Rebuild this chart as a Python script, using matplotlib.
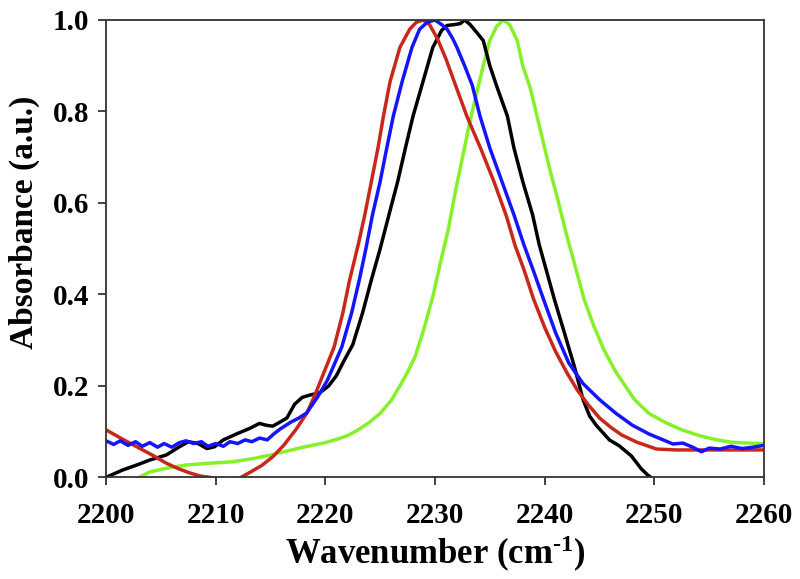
import matplotlib
matplotlib.use('Agg')
import matplotlib.pyplot as plt

# font settings (Times-like bold serif)
plt.rcParams['font.family'] = ['Liberation Serif', 'DejaVu Serif']
plt.rcParams['font.weight'] = 'bold'
plt.rcParams['mathtext.fontset'] = 'custom'
plt.rcParams['mathtext.rm'] = 'Liberation Serif:bold'
plt.rcParams['mathtext.bf'] = 'Liberation Serif:bold'
plt.rcParams['mathtext.default'] = 'bf'

# black spectrum
black_x = [2200.0, 2201.5, 2202.8, 2204.0, 2205.5, 2206.7, 2207.5, 2208.4, 2209.2, 2209.9,
           2210.7, 2212.0, 2213.1, 2214.0, 2214.6, 2215.2, 2215.8, 2216.5, 2217.2, 2217.9,
           2218.6, 2219.5, 2220.3, 2221.0, 2221.7, 2222.5, 2223.4, 2224.2, 2225.0, 2225.8,
           2226.6, 2227.3, 2228.0, 2228.9, 2229.8, 2230.6, 2231.1, 2231.8, 2232.3, 2232.7,
           2233.2, 2233.9, 2234.4, 2235.0, 2235.6, 2236.6, 2237.2, 2238.0, 2238.9, 2239.5,
           2240.3, 2240.9, 2241.8, 2242.7, 2243.5, 2244.1, 2244.7, 2245.9, 2246.8, 2247.9,
           2248.8, 2249.4, 2249.7]
black_y = [0.000, 0.016, 0.027, 0.038, 0.049, 0.067, 0.078, 0.074, 0.063, 0.067,
           0.082, 0.096, 0.107, 0.118, 0.114, 0.112, 0.120, 0.130, 0.160, 0.175,
           0.180, 0.185, 0.200, 0.222, 0.255, 0.290, 0.360, 0.432, 0.500, 0.574,
           0.647, 0.720, 0.790, 0.865, 0.940, 0.977, 0.988, 0.990, 0.992, 1.000,
           0.990, 0.970, 0.955, 0.900, 0.857, 0.790, 0.720, 0.647, 0.574, 0.509,
           0.440, 0.388, 0.316, 0.243, 0.170, 0.134, 0.114, 0.082, 0.069, 0.047,
           0.019, 0.005, 0.000]

# blue spectrum
blue_x = [2200.0, 2200.7, 2201.3, 2202.0, 2202.7, 2203.3, 2204.0, 2204.7, 2205.3, 2206.0,
          2206.7, 2207.3, 2208.0, 2208.7, 2209.3, 2210.0, 2210.7, 2211.3, 2212.0, 2212.7,
          2213.3, 2214.0, 2214.7, 2215.3, 2215.9, 2216.8, 2217.6, 2218.3, 2219.3, 2220.2,
          2221.5, 2222.4, 2223.1, 2223.7, 2224.3, 2225.0, 2225.6, 2226.2, 2227.0, 2227.9,
          2228.6, 2229.3, 2230.0, 2230.6, 2231.1, 2231.6, 2232.0, 2232.7, 2233.4, 2234.1,
          2235.0, 2236.1, 2237.2, 2238.1, 2239.0, 2239.9, 2241.0, 2242.2, 2243.5, 2245.0,
          2246.5, 2248.0, 2249.5, 2250.8, 2251.7, 2252.6, 2253.5, 2254.3, 2255.0, 2256.0,
          2257.0, 2258.0, 2259.0, 2260.0]
blue_y = [0.080, 0.072, 0.080, 0.070, 0.078, 0.068, 0.076, 0.066, 0.074, 0.066,
          0.076, 0.080, 0.074, 0.078, 0.068, 0.074, 0.068, 0.078, 0.074, 0.082,
          0.078, 0.086, 0.082, 0.095, 0.106, 0.120, 0.130, 0.141, 0.176, 0.213,
          0.285, 0.360, 0.432, 0.500, 0.574, 0.647, 0.720, 0.790, 0.865, 0.940,
          0.980, 0.995, 1.000, 0.990, 0.980, 0.960, 0.940, 0.900, 0.857, 0.790,
          0.720, 0.647, 0.574, 0.509, 0.450, 0.389, 0.316, 0.250, 0.205, 0.170,
          0.140, 0.114, 0.095, 0.082, 0.073, 0.075, 0.066, 0.056, 0.064, 0.062,
          0.068, 0.063, 0.066, 0.070]

# red spectrum
red_x = [2200.0, 2201.4, 2202.8, 2204.2, 2205.5, 2206.6, 2207.6, 2208.6, 2209.5, 2210.5,
         2211.2, 2211.9, 2212.3, 2213.2, 2214.2, 2215.2, 2216.2, 2217.3, 2218.3, 2219.0,
         2219.6, 2220.8, 2221.6, 2222.2, 2223.0, 2223.6, 2224.2, 2224.8, 2225.3, 2225.9,
         2226.8, 2227.7, 2228.3, 2228.9, 2229.5, 2230.2, 2231.0, 2231.8, 2232.9, 2234.2,
         2235.4, 2236.5, 2237.3, 2238.1, 2239.0, 2240.0, 2241.0, 2242.0, 2243.0, 2244.0,
         2245.0, 2246.0, 2247.0, 2248.4, 2250.2, 2252.0, 2255.0, 2258.0, 2260.0]
red_y = [0.104, 0.085, 0.067, 0.049, 0.031, 0.019, 0.010, 0.003, 0.000, -0.005,
         -0.010, -0.005, 0.000, 0.012, 0.026, 0.045, 0.070, 0.104, 0.140, 0.177,
         0.213, 0.285, 0.360, 0.430, 0.509, 0.574, 0.647, 0.720, 0.790, 0.865,
         0.940, 0.980, 0.995, 1.000, 0.990, 0.960, 0.915, 0.862, 0.790, 0.717,
         0.645, 0.572, 0.507, 0.455, 0.389, 0.328, 0.275, 0.230, 0.190, 0.158,
         0.130, 0.110, 0.093, 0.077, 0.062, 0.060, 0.060, 0.060, 0.060]

# green spectrum
green_x = [2203.0, 2204.0, 2205.5, 2207.3, 2209.4, 2211.5, 2213.6, 2215.0, 2217.8, 2220.0,
           2221.0, 2222.0, 2223.0, 2224.0, 2225.0, 2226.0, 2226.8, 2227.5, 2228.2, 2229.0,
           2229.8, 2230.5, 2231.2, 2231.9, 2232.6, 2233.2, 2233.8, 2234.4, 2235.0, 2235.6,
           2236.2, 2236.8, 2237.5, 2238.0, 2238.7, 2239.2, 2239.8, 2240.5, 2241.2, 2242.0,
           2242.8, 2243.6, 2244.5, 2245.4, 2246.5, 2248.2, 2249.5, 2251.0, 2252.5, 2254.0,
           2255.5, 2257.0, 2258.5, 2260.0]
green_y = [0.000, 0.012, 0.020, 0.027, 0.031, 0.034, 0.042, 0.049, 0.065, 0.076,
           0.083, 0.091, 0.104, 0.120, 0.140, 0.168, 0.200, 0.230, 0.265, 0.325,
           0.395, 0.470, 0.541, 0.630, 0.710, 0.780, 0.840, 0.900, 0.955, 0.985,
           1.000, 0.990, 0.955, 0.900, 0.850, 0.800, 0.740, 0.670, 0.607, 0.530,
           0.460, 0.389, 0.330, 0.279, 0.230, 0.170, 0.140, 0.120, 0.104, 0.092,
           0.083, 0.077, 0.075, 0.074]

x_ticks = [2200, 2210, 2220, 2230, 2240, 2250, 2260]
y_ticks = [0.0, 0.2, 0.4, 0.6, 0.8, 1.0]

fig = plt.figure(figsize=(8, 5.79), dpi=100)
ax = fig.add_axes([0.1325, 0.1755, 0.8225, 0.79])

lw = 2.5
ax.plot(green_x, green_y, color='#86F02A', lw=lw)
ax.plot(black_x, black_y, color='black', lw=lw)
ax.plot(red_x, red_y, color='#C8281A', lw=lw)
ax.plot(blue_x, blue_y, color='#1414FF', lw=lw)

ax.set_xlim(2200, 2260)
ax.set_ylim(0, 1.0)
ax.set_xticks(x_ticks)
ax.set_yticks(y_ticks)
ax.set_yticklabels([f'{v:.1f}' for v in y_ticks])

for s in ax.spines.values():
    s.set_linewidth(1.3)
    s.set_color('#333333')

ax.tick_params(direction='out', length=6, width=1.3, color='#333333', labelsize=21)
ax.tick_params(axis='x', pad=12)
ax.tick_params(axis='y', pad=6)
for lab in ax.get_xticklabels() + ax.get_yticklabels():
    lab.set_fontweight('bold')

# superscript with a short hyphen like the original
ax.set_xlabel('Wavenumber (cm$^{\u2010 1}$)', fontsize=25, fontweight='bold')
ax.set_ylabel('Absorbance (a.u.)', fontsize=24, fontweight='bold')
ax.xaxis.set_label_coords(0.5, -0.124)
ax.yaxis.set_label_coords(-0.100, 0.558)

fig.savefig('out.png', dpi=100)
